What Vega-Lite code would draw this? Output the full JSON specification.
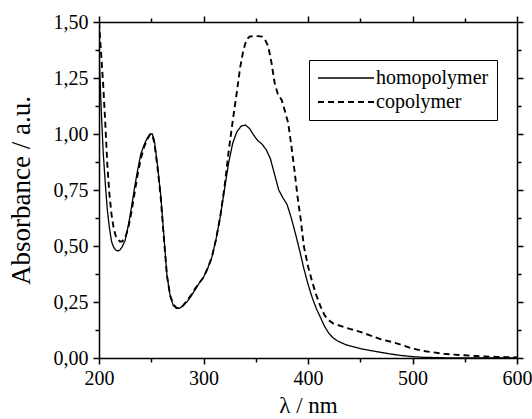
{
  "$schema": "https://vega.github.io/schema/vega-lite/v6.json",
  "width": 418,
  "height": 336,
  "autosize": {"type": "none"},
  "padding": {"left": 99, "top": 22, "right": 15, "bottom": 61},
  "background": "white",
  "config": {
    "view": {"stroke": null},
    "font": "Liberation Serif",
    "axis": {
      "grid": false,
      "domainColor": "black",
      "domainWidth": 1.5,
      "tickColor": "black",
      "tickWidth": 1.5,
      "labelColor": "black",
      "titleColor": "black",
      "labelFont": "Liberation Serif",
      "titleFont": "Liberation Serif",
      "labelFontSize": 20,
      "titleFontSize": 23,
      "titleFontWeight": "normal"
    },
    "legend": {"labelFont": "Liberation Serif"}
  },
  "data": {
    "values": [
      {"nm": 200, "A": 1.37, "s": "homopolymer"},
      {"nm": 202, "A": 1.12, "s": "homopolymer"},
      {"nm": 204, "A": 0.92, "s": "homopolymer"},
      {"nm": 206, "A": 0.78, "s": "homopolymer"},
      {"nm": 208, "A": 0.66, "s": "homopolymer"},
      {"nm": 210, "A": 0.58, "s": "homopolymer"},
      {"nm": 212, "A": 0.52, "s": "homopolymer"},
      {"nm": 214, "A": 0.495, "s": "homopolymer"},
      {"nm": 216, "A": 0.482, "s": "homopolymer"},
      {"nm": 218, "A": 0.478, "s": "homopolymer"},
      {"nm": 220, "A": 0.482, "s": "homopolymer"},
      {"nm": 222, "A": 0.495, "s": "homopolymer"},
      {"nm": 225, "A": 0.525, "s": "homopolymer"},
      {"nm": 228, "A": 0.59, "s": "homopolymer"},
      {"nm": 231, "A": 0.67, "s": "homopolymer"},
      {"nm": 234, "A": 0.76, "s": "homopolymer"},
      {"nm": 237, "A": 0.84, "s": "homopolymer"},
      {"nm": 240, "A": 0.91, "s": "homopolymer"},
      {"nm": 243, "A": 0.95, "s": "homopolymer"},
      {"nm": 246, "A": 0.98, "s": "homopolymer"},
      {"nm": 249, "A": 1.0, "s": "homopolymer"},
      {"nm": 251, "A": 1.0, "s": "homopolymer"},
      {"nm": 253, "A": 0.97, "s": "homopolymer"},
      {"nm": 256, "A": 0.86, "s": "homopolymer"},
      {"nm": 259, "A": 0.73, "s": "homopolymer"},
      {"nm": 262, "A": 0.55, "s": "homopolymer"},
      {"nm": 265, "A": 0.37, "s": "homopolymer"},
      {"nm": 268, "A": 0.28, "s": "homopolymer"},
      {"nm": 271, "A": 0.235, "s": "homopolymer"},
      {"nm": 274, "A": 0.222, "s": "homopolymer"},
      {"nm": 277, "A": 0.222, "s": "homopolymer"},
      {"nm": 280, "A": 0.232, "s": "homopolymer"},
      {"nm": 284, "A": 0.25, "s": "homopolymer"},
      {"nm": 288, "A": 0.275, "s": "homopolymer"},
      {"nm": 292, "A": 0.305, "s": "homopolymer"},
      {"nm": 296, "A": 0.335, "s": "homopolymer"},
      {"nm": 300, "A": 0.36, "s": "homopolymer"},
      {"nm": 304, "A": 0.4, "s": "homopolymer"},
      {"nm": 308, "A": 0.45, "s": "homopolymer"},
      {"nm": 312, "A": 0.53, "s": "homopolymer"},
      {"nm": 316, "A": 0.63, "s": "homopolymer"},
      {"nm": 320, "A": 0.75, "s": "homopolymer"},
      {"nm": 324, "A": 0.87, "s": "homopolymer"},
      {"nm": 328, "A": 0.96, "s": "homopolymer"},
      {"nm": 332, "A": 1.01, "s": "homopolymer"},
      {"nm": 336, "A": 1.035, "s": "homopolymer"},
      {"nm": 340, "A": 1.04, "s": "homopolymer"},
      {"nm": 344, "A": 1.025, "s": "homopolymer"},
      {"nm": 348, "A": 0.995, "s": "homopolymer"},
      {"nm": 352, "A": 0.97, "s": "homopolymer"},
      {"nm": 356, "A": 0.955, "s": "homopolymer"},
      {"nm": 360, "A": 0.93, "s": "homopolymer"},
      {"nm": 364, "A": 0.89, "s": "homopolymer"},
      {"nm": 368, "A": 0.82, "s": "homopolymer"},
      {"nm": 372, "A": 0.75, "s": "homopolymer"},
      {"nm": 376, "A": 0.715, "s": "homopolymer"},
      {"nm": 380, "A": 0.685, "s": "homopolymer"},
      {"nm": 384, "A": 0.625, "s": "homopolymer"},
      {"nm": 388, "A": 0.555, "s": "homopolymer"},
      {"nm": 392, "A": 0.48, "s": "homopolymer"},
      {"nm": 396, "A": 0.4, "s": "homopolymer"},
      {"nm": 400, "A": 0.33, "s": "homopolymer"},
      {"nm": 404, "A": 0.27, "s": "homopolymer"},
      {"nm": 408, "A": 0.22, "s": "homopolymer"},
      {"nm": 412, "A": 0.18, "s": "homopolymer"},
      {"nm": 416, "A": 0.14, "s": "homopolymer"},
      {"nm": 420, "A": 0.11, "s": "homopolymer"},
      {"nm": 424, "A": 0.09, "s": "homopolymer"},
      {"nm": 428, "A": 0.077, "s": "homopolymer"},
      {"nm": 432, "A": 0.068, "s": "homopolymer"},
      {"nm": 436, "A": 0.06, "s": "homopolymer"},
      {"nm": 440, "A": 0.054, "s": "homopolymer"},
      {"nm": 450, "A": 0.042, "s": "homopolymer"},
      {"nm": 460, "A": 0.033, "s": "homopolymer"},
      {"nm": 470, "A": 0.025, "s": "homopolymer"},
      {"nm": 480, "A": 0.017, "s": "homopolymer"},
      {"nm": 490, "A": 0.011, "s": "homopolymer"},
      {"nm": 500, "A": 0.006, "s": "homopolymer"},
      {"nm": 510, "A": 0.003, "s": "homopolymer"},
      {"nm": 530, "A": 0.001, "s": "homopolymer"},
      {"nm": 560, "A": 0.0, "s": "homopolymer"},
      {"nm": 600, "A": 0.0, "s": "homopolymer"},
      {"nm": 200, "A": 1.5, "s": "copolymer"},
      {"nm": 202, "A": 1.36, "s": "copolymer"},
      {"nm": 204, "A": 1.22, "s": "copolymer"},
      {"nm": 206, "A": 1.05, "s": "copolymer"},
      {"nm": 208, "A": 0.86, "s": "copolymer"},
      {"nm": 210, "A": 0.73, "s": "copolymer"},
      {"nm": 212, "A": 0.64, "s": "copolymer"},
      {"nm": 214, "A": 0.58, "s": "copolymer"},
      {"nm": 216, "A": 0.545, "s": "copolymer"},
      {"nm": 218, "A": 0.53, "s": "copolymer"},
      {"nm": 220, "A": 0.52, "s": "copolymer"},
      {"nm": 222, "A": 0.52, "s": "copolymer"},
      {"nm": 224, "A": 0.53, "s": "copolymer"},
      {"nm": 226, "A": 0.55, "s": "copolymer"},
      {"nm": 228, "A": 0.58, "s": "copolymer"},
      {"nm": 231, "A": 0.65, "s": "copolymer"},
      {"nm": 234, "A": 0.735, "s": "copolymer"},
      {"nm": 237, "A": 0.82, "s": "copolymer"},
      {"nm": 240, "A": 0.89, "s": "copolymer"},
      {"nm": 243, "A": 0.94, "s": "copolymer"},
      {"nm": 246, "A": 0.975, "s": "copolymer"},
      {"nm": 249, "A": 1.0, "s": "copolymer"},
      {"nm": 251, "A": 0.995, "s": "copolymer"},
      {"nm": 253, "A": 0.96, "s": "copolymer"},
      {"nm": 256, "A": 0.85, "s": "copolymer"},
      {"nm": 259, "A": 0.72, "s": "copolymer"},
      {"nm": 262, "A": 0.54, "s": "copolymer"},
      {"nm": 265, "A": 0.37, "s": "copolymer"},
      {"nm": 268, "A": 0.28, "s": "copolymer"},
      {"nm": 271, "A": 0.24, "s": "copolymer"},
      {"nm": 274, "A": 0.225, "s": "copolymer"},
      {"nm": 277, "A": 0.223, "s": "copolymer"},
      {"nm": 280, "A": 0.232, "s": "copolymer"},
      {"nm": 284, "A": 0.255, "s": "copolymer"},
      {"nm": 288, "A": 0.28, "s": "copolymer"},
      {"nm": 292, "A": 0.31, "s": "copolymer"},
      {"nm": 296, "A": 0.335, "s": "copolymer"},
      {"nm": 300, "A": 0.36, "s": "copolymer"},
      {"nm": 304, "A": 0.4, "s": "copolymer"},
      {"nm": 308, "A": 0.45, "s": "copolymer"},
      {"nm": 312, "A": 0.53, "s": "copolymer"},
      {"nm": 316, "A": 0.63, "s": "copolymer"},
      {"nm": 320, "A": 0.76, "s": "copolymer"},
      {"nm": 324, "A": 0.92, "s": "copolymer"},
      {"nm": 328, "A": 1.06, "s": "copolymer"},
      {"nm": 332, "A": 1.19, "s": "copolymer"},
      {"nm": 335, "A": 1.295, "s": "copolymer"},
      {"nm": 338, "A": 1.37, "s": "copolymer"},
      {"nm": 341, "A": 1.42, "s": "copolymer"},
      {"nm": 344, "A": 1.435, "s": "copolymer"},
      {"nm": 348, "A": 1.437, "s": "copolymer"},
      {"nm": 352, "A": 1.437, "s": "copolymer"},
      {"nm": 356, "A": 1.435, "s": "copolymer"},
      {"nm": 359, "A": 1.42, "s": "copolymer"},
      {"nm": 362, "A": 1.39, "s": "copolymer"},
      {"nm": 365, "A": 1.32, "s": "copolymer"},
      {"nm": 368, "A": 1.23, "s": "copolymer"},
      {"nm": 371, "A": 1.18, "s": "copolymer"},
      {"nm": 375, "A": 1.15, "s": "copolymer"},
      {"nm": 378, "A": 1.1, "s": "copolymer"},
      {"nm": 381, "A": 1.05, "s": "copolymer"},
      {"nm": 384, "A": 0.95, "s": "copolymer"},
      {"nm": 387, "A": 0.84, "s": "copolymer"},
      {"nm": 390, "A": 0.72, "s": "copolymer"},
      {"nm": 393, "A": 0.62, "s": "copolymer"},
      {"nm": 396, "A": 0.5, "s": "copolymer"},
      {"nm": 400, "A": 0.41, "s": "copolymer"},
      {"nm": 404, "A": 0.34, "s": "copolymer"},
      {"nm": 408, "A": 0.28, "s": "copolymer"},
      {"nm": 412, "A": 0.23, "s": "copolymer"},
      {"nm": 416, "A": 0.19, "s": "copolymer"},
      {"nm": 420, "A": 0.168, "s": "copolymer"},
      {"nm": 424, "A": 0.155, "s": "copolymer"},
      {"nm": 430, "A": 0.145, "s": "copolymer"},
      {"nm": 440, "A": 0.13, "s": "copolymer"},
      {"nm": 450, "A": 0.117, "s": "copolymer"},
      {"nm": 460, "A": 0.1, "s": "copolymer"},
      {"nm": 470, "A": 0.083, "s": "copolymer"},
      {"nm": 480, "A": 0.072, "s": "copolymer"},
      {"nm": 490, "A": 0.058, "s": "copolymer"},
      {"nm": 500, "A": 0.042, "s": "copolymer"},
      {"nm": 510, "A": 0.032, "s": "copolymer"},
      {"nm": 520, "A": 0.025, "s": "copolymer"},
      {"nm": 530, "A": 0.019, "s": "copolymer"},
      {"nm": 540, "A": 0.015, "s": "copolymer"},
      {"nm": 550, "A": 0.012, "s": "copolymer"},
      {"nm": 560, "A": 0.009, "s": "copolymer"},
      {"nm": 570, "A": 0.007, "s": "copolymer"},
      {"nm": 580, "A": 0.005, "s": "copolymer"},
      {"nm": 590, "A": 0.004, "s": "copolymer"},
      {"nm": 600, "A": 0.003, "s": "copolymer"}
    ]
  },
  "resolve": {"axis": {"x": "independent", "y": "independent"}},
  "layer": [
    {
      "mark": {"type": "line", "color": "black", "clip": true},
      "encoding": {
        "x": {
          "field": "nm", "type": "quantitative",
          "scale": {"domain": [200, 600], "nice": false, "zero": false},
          "axis": {
            "orient": "bottom",
            "title": "λ / nm",
            "values": [200, 250, 300, 350, 400, 450, 500, 550, 600],
            "labelExpr": "datum.value % 100 == 0 ? datum.label : ''",
            "format": "d",
            "tickSize": {"condition": {"test": "datum.value % 100 == 0", "value": 6}, "value": 4},
            "labelFont": "Liberation Serif",
            "titleFont": "Liberation Serif",
            "labelPadding": 4,
            "titlePadding": 6,
            "labelFlush": false,
            "labelOverlap": false
          }
        },
        "y": {
          "field": "A", "type": "quantitative",
          "scale": {"domain": [0, 1.5], "nice": false, "zero": false},
          "axis": {
            "orient": "left",
            "title": "Absorbance / a.u.",
            "titleFontSize": 27,
            "values": [0, 0.125, 0.25, 0.375, 0.5, 0.625, 0.75, 0.875, 1, 1.125, 1.25, 1.375, 1.5],
            "labelExpr": "(datum.value * 4) % 1 == 0 ? replace(format(datum.value, '.2f'), '.', ',') : ''",
            "tickSize": {"condition": {"test": "(datum.value * 4) % 1 == 0", "value": 6}, "value": 4},
            "labelFont": "Liberation Serif",
            "titleFont": "Liberation Serif",
            "labelPadding": 5,
            "titlePadding": 18,
            "labelFlush": false,
            "labelOverlap": false
          }
        },
        "detail": {"field": "s"},
        "strokeDash": {
          "field": "s", "type": "nominal",
          "scale": {"domain": ["homopolymer", "copolymer"], "range": [[1, 0], [6, 4]]},
          "legend": {
            "title": null,
            "orient": "none",
            "legendX": 210,
            "legendY": 38,
            "direction": "vertical",
            "strokeColor": "black",
            "fillColor": "white",
            "padding": 8,
            "symbolType": "stroke",
            "symbolSize": 3136,
            "clipHeight": 20,
            "symbolStrokeColor": "black",
            "symbolStrokeWidth": 1.3,
            "labelFont": "Liberation Serif",
            "labelFontSize": 20,
            "labelColor": "black",
            "labelOffset": 1,
            "rowPadding": 4
          }
        },
        "strokeWidth": {
          "field": "s", "type": "nominal",
          "scale": {"domain": ["homopolymer", "copolymer"], "range": [1.3, 1.9]},
          "legend": null
        }
      }
    },
    {
      "mark": {"type": "point", "opacity": 0},
      "encoding": {
        "x": {
          "field": "nm", "type": "quantitative",
          "axis": {
            "orient": "top",
            "title": null,
            "labels": false,
            "values": [200, 250, 300, 350, 400, 450, 500, 550, 600],
            "tickSize": {"condition": {"test": "datum.value % 100 == 0", "value": 6}, "value": 4}
          }
        },
        "y": {
          "field": "A", "type": "quantitative",
          "axis": {
            "orient": "right",
            "title": null,
            "labels": false,
            "values": [0, 0.125, 0.25, 0.375, 0.5, 0.625, 0.75, 0.875, 1, 1.125, 1.25, 1.375, 1.5],
            "tickSize": {"condition": {"test": "(datum.value * 4) % 1 == 0", "value": 6}, "value": 4}
          }
        }
      }
    }
  ]
}
